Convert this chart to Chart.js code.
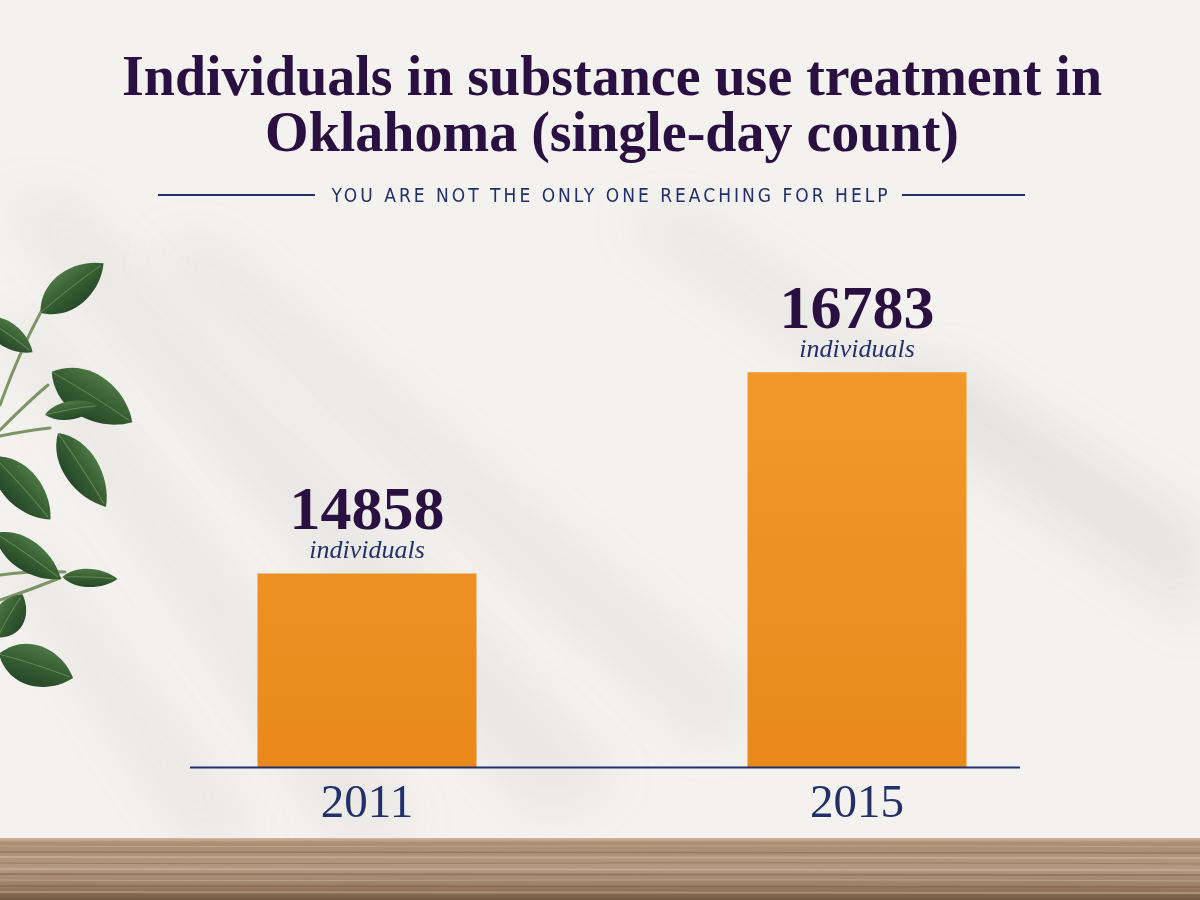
<!DOCTYPE html>
<html>
<head>
<meta charset="utf-8">
<script src="https://cdn.jsdelivr.net/npm/chart.js@4.4.1/dist/chart.umd.min.js"></script>
<style>
  html, body { margin: 0; padding: 0; background: #f3f1ee; }
  #wrap { width: 1200px; height: 900px; }
</style>
</head>
<body>
<div id="wrap"><canvas id="treatment" width="1200" height="900"></canvas></div>
<script>
const years = ["2011", "2015"];
const counts = [14858, 16783];
const unitLabel = "individuals";
const titleLines = ["Individuals in substance use treatment in", "Oklahoma (single-day count)"];
const tagline = "YOU ARE NOT THE ONLY ONE REACHING FOR HELP";

const purple = "#2a1040";
const navy = "#22306a";

// leaves: centre x, centre y, length, width, angle (deg)
const leaves = [
  [72, 288, 80, 36, -38],
  [8, 335, 60, 24, 35],
  [92, 397, 95, 44, 32],
  [72, 410, 55, 18, -10],
  [82, 470, 88, 34, 57],
  [22, 488, 85, 36, 48],
  [28, 556, 80, 30, 35],
  [90, 578, 55, 18, 2],
  [10, 616, 50, 30, -60],
  [36, 666, 78, 40, 18],
];

function drawLeaf(ctx, cx, cy, len, wid, ang) {
  ctx.save();
  ctx.translate(cx, cy);
  ctx.rotate(ang * Math.PI / 180);
  const g = ctx.createLinearGradient(0, -wid / 2, 0, wid / 2);
  g.addColorStop(0, "#4c7745");
  g.addColorStop(0.5, "#365d31");
  g.addColorStop(1, "#28482a");
  ctx.fillStyle = g;
  ctx.beginPath();
  ctx.moveTo(-len / 2, 0);
  ctx.bezierCurveTo(-len / 4, -wid * 0.75, len / 4, -wid * 0.6, len / 2, 0);
  ctx.bezierCurveTo(len / 4, wid * 0.6, -len / 4, wid * 0.75, -len / 2, 0);
  ctx.fill();
  ctx.strokeStyle = "rgba(170,195,150,0.4)";
  ctx.lineWidth = 1;
  ctx.beginPath();
  ctx.moveTo(-len / 2, 0);
  ctx.quadraticCurveTo(0, -2, len / 2 - 4, 0);
  ctx.stroke();
  ctx.restore();
}

const backdrop = {
  id: "backdrop",
  beforeDraw(chart) {
    const ctx = chart.ctx;
    ctx.save();
    ctx.fillStyle = "#f4f2ef";
    ctx.fillRect(0, 0, 1200, 900);

    // soft shadow streaks on the wall
    ctx.filter = "blur(24px)";
    ctx.fillStyle = "rgba(150,145,140,0.11)";
    const streaks = [
      [[0, 200], [70, 200], [620, 780], [540, 820]],
      [[0, 330], [30, 310], [420, 830], [340, 840]],
      [[150, 250], [210, 240], [760, 700], [710, 750]],
      [[0, 560], [30, 540], [260, 840], [190, 840]],
      [[620, 220], [690, 210], [1200, 560], [1200, 630]],
      [[900, 380], [950, 360], [1200, 520], [1200, 570]],
    ];
    streaks.forEach(p => {
      ctx.beginPath();
      ctx.moveTo(p[0][0], p[0][1]);
      for (let i = 1; i < p.length; i++) ctx.lineTo(p[i][0], p[i][1]);
      ctx.closePath();
      ctx.fill();
    });
    ctx.filter = "none";

    // stems
    ctx.strokeStyle = "#7d9466";
    ctx.lineWidth = 3;
    ctx.lineCap = "round";
    const stems = [
      [0, 405, 20, 350, 42, 310],
      [0, 436, 30, 430, 50, 428],
      [0, 430, 30, 400, 48, 385],
      [0, 575, 35, 570, 65, 572],
      [0, 600, 30, 590, 60, 578],
    ];
    stems.forEach(s => {
      ctx.beginPath();
      ctx.moveTo(s[0], s[1]);
      ctx.quadraticCurveTo(s[2], s[3], s[4], s[5]);
      ctx.stroke();
    });
    leaves.forEach(l => drawLeaf(ctx, ...l));

    // wooden shelf
    const wg = ctx.createLinearGradient(0, 838, 0, 900);
    wg.addColorStop(0, "#cdb9a0");
    wg.addColorStop(0.08, "#ab8d70");
    wg.addColorStop(0.5, "#b39a80");
    wg.addColorStop(0.8, "#9a7c60");
    wg.addColorStop(1, "#735843");
    ctx.fillStyle = wg;
    ctx.fillRect(0, 838, 1200, 62);
    const grain = [846, 852, 857, 863, 869, 874, 880, 886, 892];
    grain.forEach((y, i) => {
      ctx.strokeStyle = i % 2 ? "rgba(90,65,45,0.3)" : "rgba(225,212,195,0.35)";
      ctx.lineWidth = 1 + (i % 3) * 0.6;
      ctx.beginPath();
      ctx.moveTo(0, y);
      ctx.bezierCurveTo(300, y + 2, 700, y - 2, 1200, y + 1);
      ctx.stroke();
    });
    ctx.restore();
  },
};

const annotate = {
  id: "annotate",
  afterDatasetsDraw(chart) {
    const ctx = chart.ctx;
    const y = chart.scales.y;
    ctx.save();
    // baseline
    const by = y.getPixelForValue(y.min);
    ctx.strokeStyle = navy;
    ctx.lineWidth = 2;
    ctx.beginPath();
    ctx.moveTo(190, by);
    ctx.lineTo(1020, by);
    ctx.stroke();

    // value labels
    ctx.textAlign = "center";
    ctx.textBaseline = "alphabetic";
    chart.getDatasetMeta(0).data.forEach((bar, i) => {
      ctx.fillStyle = purple;
      ctx.font = 'bold 62px "Liberation Serif"';
      ctx.fillText(String(counts[i]), bar.x, bar.y - 44);
      ctx.fillStyle = navy;
      ctx.font = 'italic 26px "Liberation Serif"';
      ctx.fillText(unitLabel, bar.x, bar.y - 15);
    });

    // tagline with rules
    ctx.fillStyle = navy;
    ctx.font = '19px "DejaVu Sans Condensed", "Liberation Sans Narrow", sans-serif';
    ctx.letterSpacing = "3px";
    ctx.textBaseline = "middle";
    ctx.fillText(tagline, 611, 197);
    ctx.letterSpacing = "0px";
    ctx.lineWidth = 2;
    ctx.beginPath();
    ctx.moveTo(158, 195);
    ctx.lineTo(315, 195);
    ctx.moveTo(902, 195);
    ctx.lineTo(1025, 195);
    ctx.stroke();
    ctx.restore();
  },
};

const ctx = document.getElementById("treatment").getContext("2d");

const barFill = ctx.createLinearGradient(0, 370, 0, 767);
barFill.addColorStop(0, "#f2982b");
barFill.addColorStop(1, "#e9891c");

new Chart(ctx, {
  type: "bar",
  data: {
    labels: years,
    datasets: [
      {
        label: "Individuals",
        data: counts,
        backgroundColor: barFill,
        borderWidth: 0,
        barPercentage: 0.447,
        categoryPercentage: 1,
      },
    ],
  },
  options: {
    responsive: false,
    animation: false,
    devicePixelRatio: 1,
    layout: { padding: { top: 43, left: 122, right: 98, bottom: 58 } },
    plugins: {
      legend: { display: false },
      tooltip: { enabled: false },
      title: {
        display: true,
        text: titleLines,
        color: purple,
        font: { family: '"Liberation Serif"', weight: "bold", size: 56, lineHeight: 1.0 },
        padding: { top: 10, bottom: 80 },
      },
    },
    scales: {
      x: {
        grid: { display: false, drawTicks: false },
        border: { display: false },
        ticks: {
          color: navy,
          padding: 9,
          font: { family: '"Liberation Serif"', size: 47 },
        },
      },
      y: {
        display: false,
        min: 13000,
        max: 18000,
      },
    },
  },
  plugins: [backdrop, annotate],
});
</script>
</body>
</html>
